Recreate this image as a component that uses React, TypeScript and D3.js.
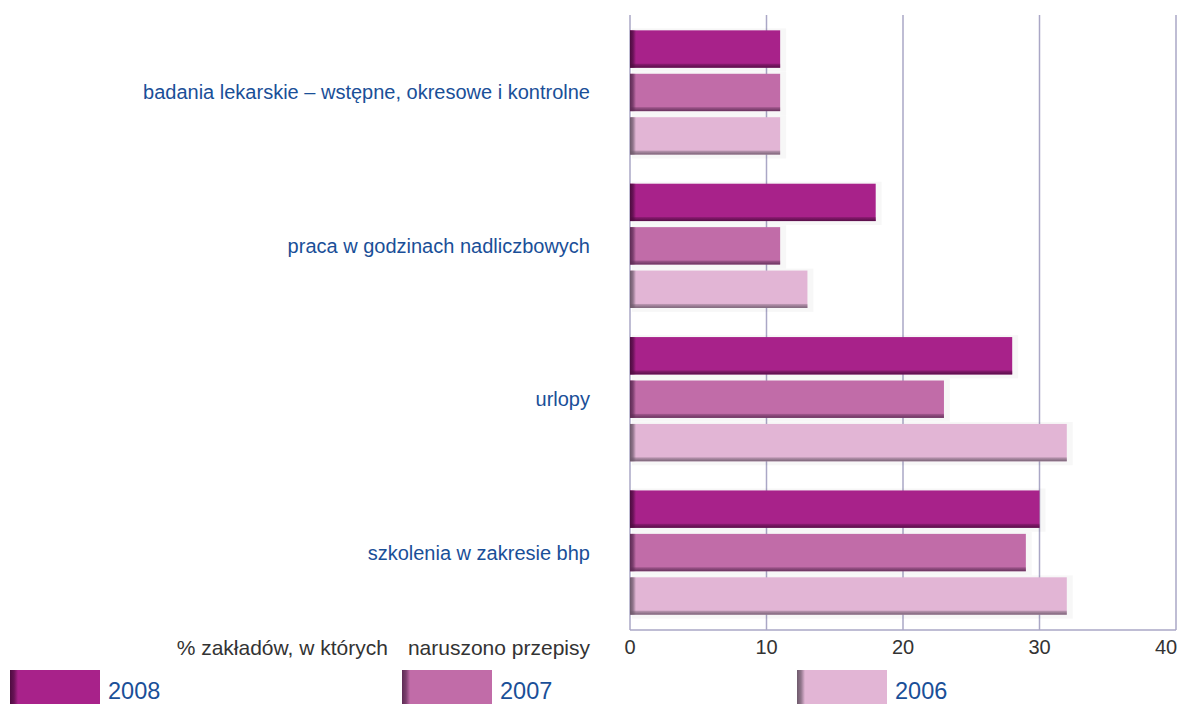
import React from "react";
import * as d3 from "d3";

const WIDTH = 1180;
const HEIGHT = 704;

const categories = [
  "badania lekarskie – wstępne, okresowe i kontrolne",
  "praca w godzinach nadliczbowych",
  "urlopy",
  "szkolenia w zakresie bhp",
];
const years = ["2008", "2007", "2006"];
const values2008 = [11, 18, 28, 30];
const values2007 = [11, 11, 23, 29];
const values2006 = [11, 13, 32, 32];
const xTicks = [0, 10, 20, 30, 40];
const axisTitle = ["% zakładów, w których", "naruszono przepisy"];

const COLORS: Record<string, { fill: string; dark: string }> = {
  "2008": { fill: "#a8228a", dark: "#4e0c40" },
  "2007": { fill: "#c16ca8", dark: "#5e2c55" },
  "2006": { fill: "#e2b5d5", dark: "#6e5a6c" },
};
const BLUE = "#1a4f98";
const GRID = "#aaa7c6";
const FONT = "'Liberation Sans', Arial, sans-serif";

const LEFT = 630;
const RIGHT = 1176;
const TOP = 15;
const BOTTOM = 630;

export default function App() {
  const xScale = d3.scaleLinear().domain([0, 40]).range([LEFT, RIGHT]);
  const yGroup = d3
    .scaleBand()
    .domain(categories)
    .range([TOP, BOTTOM])
    .paddingInner(0.19)
    .paddingOuter(0.1);
  const yInner = d3
    .scaleBand()
    .domain(years)
    .range([0, yGroup.bandwidth()])
    .paddingInner(0.14);

  const series: Record<string, number[]> = {
    "2008": values2008,
    "2007": values2007,
    "2006": values2006,
  };

  const bars = categories.map((cat, i) => {
    const gy = yGroup(cat) ?? 0;
    return (
      <g key={cat}>
        {years.map((yr) => {
          const y = gy + (yInner(yr) ?? 0);
          const h = yInner.bandwidth();
          const w = xScale(series[yr][i]) - xScale(0);
          const c = COLORS[yr];
          return (
            <g key={yr}>
              <rect x={xScale(0) + 2} y={y - 2} width={w + 4} height={h + 6} fill="#000" opacity={0.03} />
              <rect x={xScale(0)} y={y} width={w} height={h} fill={c.fill} />
              <rect x={xScale(0)} y={y + h - 4} width={w} height={4} fill={`url(#bot-${yr})`} />
              <rect x={xScale(0)} y={y} width={6} height={h} fill={`url(#left-${yr})`} />
            </g>
          );
        })}
        <text
          x={590}
          y={gy + yGroup.bandwidth() / 2}
          textAnchor="end"
          dominantBaseline="central"
          fontSize={20}
          fill={BLUE}
          fontFamily={FONT}
        >
          {cat}
        </text>
      </g>
    );
  });

  const grid = xTicks.map((t) => (
    <g key={t}>
      <line x1={xScale(t)} x2={xScale(t)} y1={TOP} y2={BOTTOM} stroke={GRID} strokeWidth={1.5} />
      <text
        x={xScale(t) - (t === 40 ? 10 : 0)}
        y={647}
        textAnchor="middle"
        dominantBaseline="central"
        fontSize={20}
        fill="#333"
        fontFamily={FONT}
      >
        {t}
      </text>
    </g>
  ));

  const legendX = [10, 402, 797];
  const legend = years.map((yr, i) => (
    <g key={yr}>
      <rect x={legendX[i]} y={670} width={90} height={34} fill={COLORS[yr].fill} />
      <rect x={legendX[i]} y={670} width={8} height={34} fill={`url(#left-${yr})`} />
      <text
        x={legendX[i] + 98}
        y={691}
        dominantBaseline="central"
        fontSize={23.5}
        fill={BLUE}
        fontFamily={FONT}
      >
        {yr}
      </text>
    </g>
  ));

  return (
    <svg
      width={WIDTH}
      height={HEIGHT}
      style={{ position: "absolute", left: 0, top: 0, background: "#fff" }}
    >
      <defs>
        {years.map((yr) => (
          <React.Fragment key={yr}>
            <linearGradient id={`left-${yr}`} x1="0" x2="1" y1="0" y2="0">
              <stop offset="0" stopColor={COLORS[yr].dark} stopOpacity={1} />
              <stop offset="0.5" stopColor={COLORS[yr].dark} stopOpacity={0.7} />
              <stop offset="1" stopColor={COLORS[yr].dark} stopOpacity={0} />
            </linearGradient>
            <linearGradient id={`bot-${yr}`} x1="0" x2="0" y1="0" y2="1">
              <stop offset="0" stopColor={COLORS[yr].dark} stopOpacity={0.3} />
              <stop offset="1" stopColor={COLORS[yr].dark} stopOpacity={0.9} />
            </linearGradient>
          </React.Fragment>
        ))}
      </defs>
      <rect width={WIDTH} height={HEIGHT} fill="#fff" />
      {grid}
      <line x1={LEFT} x2={RIGHT} y1={BOTTOM} y2={BOTTOM} stroke={GRID} strokeWidth={1.5} />
      {bars}
      <text
        x={590}
        y={647}
        textAnchor="end"
        dominantBaseline="central"
        fontSize={21}
        fill="#333"
        fontFamily={FONT}
      >
        <tspan>{axisTitle[0]}</tspan>
        <tspan dx={20}>{axisTitle[1]}</tspan>
      </text>
      {legend}
    </svg>
  );
}
